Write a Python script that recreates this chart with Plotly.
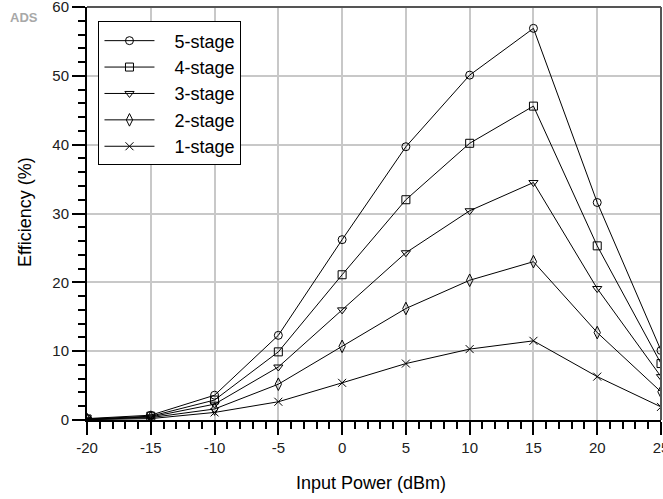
import plotly.graph_objects as go

x_power = [-20, -15, -10, -5, 0, 5, 10, 15, 20, 25]
stage5 = [0.2, 0.7, 3.6, 12.3, 26.2, 39.7, 50.1, 56.9, 31.6, 10.1]
stage4 = [0.15, 0.55, 2.9, 9.9, 21.1, 32.0, 40.2, 45.6, 25.3, 8.2]
stage3 = [0.1, 0.45, 2.3, 7.7, 16.0, 24.3, 30.4, 34.5, 19.1, 6.3]
stage2 = [0.08, 0.35, 1.6, 5.2, 10.7, 16.2, 20.3, 23.0, 12.7, 4.1]
stage1 = [0.05, 0.2, 1.1, 2.65, 5.4, 8.2, 10.3, 11.5, 6.3, 1.9]

x_tick_vals = [-20, -15, -10, -5, 0, 5, 10, 15, 20, 25]
x_tick_text = ["-20", "-15", "-10", "-5", "0", "5", "10", "15", "20", "25"]
y_tick_vals = [0, 10, 20, 30, 40, 50, 60]
y_tick_text = ["0", "10", "20", "30", "40", "50", "60"]

names = ["5-stage", "4-stage", "3-stage", "2-stage", "1-stage"]
series = [stage5, stage4, stage3, stage2, stage1]
symbols = ["circle-open", "square-open", "triangle-down-open", "diamond-tall-open", "x-thin-open"]
sizes = [8, 8, 8, 9, 8]

pad = "\u00a0\u00a0\u00a0"

fig = go.Figure()
for nm, ys, sym, sz in zip(names, series, symbols, sizes):
    fig.add_trace(go.Scatter(
        x=x_power, y=ys, name=pad + nm, mode="lines+markers",
        line=dict(color="black", width=1),
        marker=dict(symbol=sym, size=sz, color="black",
                    line=dict(color="black", width=1)),
    ))

font_family = "Liberation Sans, Arial, sans-serif"

fig.update_layout(
    width=663, height=499,
    margin=dict(l=87, r=2, t=7, b=79),
    paper_bgcolor="white", plot_bgcolor="white",
    font=dict(family=font_family, color="black"),
    showlegend=True,
    legend=dict(
        x=0.02, y=0.965, xanchor="left", yanchor="top",
        bgcolor="white", bordercolor="black", borderwidth=1,
        font=dict(size=18, family=font_family, color="black"),
        itemwidth=50, tracegroupgap=0,
    ),
    xaxis=dict(
        range=[-20, 25], tickmode="array", tickvals=x_tick_vals, ticktext=x_tick_text,
        automargin=False,
        showgrid=True, gridcolor="#c8c8c8", gridwidth=2,
        showline=True, linecolor="black", linewidth=2,
        ticks="outside", ticklen=13, tickwidth=2, tickcolor="black",
        tickfont=dict(size=15, color="#202020"),
        ticklabeloverflow="allow",
        zeroline=False,
        minor=dict(dtick=1, tick0=0, ticks="outside", ticklen=7, tickwidth=1.5,
                   tickcolor="black", showgrid=False),
    ),
    yaxis=dict(
        range=[0, 60], tickmode="array", tickvals=y_tick_vals, ticktext=y_tick_text,
        automargin=False,
        showgrid=True, gridcolor="#c8c8c8", gridwidth=2,
        showline=True, linecolor="black", linewidth=2,
        ticks="outside", ticklen=13, tickwidth=2, tickcolor="black",
        tickfont=dict(size=15, color="#202020"),
        ticklabeloverflow="allow",
        zeroline=False,
        minor=dict(dtick=2, tick0=0, ticks="outside", ticklen=7, tickwidth=1.5,
                   tickcolor="black", showgrid=False),
    ),
    shapes=[
        dict(type="line", xref="paper", yref="paper", x0=0, x1=1, y0=1, y1=1,
             line=dict(color="#555555", width=2)),
        dict(type="line", xref="paper", yref="paper", x0=1, x1=1, y0=0, y1=1,
             line=dict(color="#555555", width=2)),
    ],
    annotations=[
        dict(text="Input Power (dBm)", xref="paper", yref="paper",
             x=(371 - 87) / 574, y=-(483 - 420) / 413, xanchor="center", yanchor="middle",
             showarrow=False, font=dict(size=18, family=font_family, color="black")),
        dict(text="Efficiency (%)", xref="paper", yref="paper",
             x=-(87 - 25) / 574, y=(420 - 212) / 413, xanchor="center", yanchor="middle",
             textangle=-90,
             showarrow=False, font=dict(size=18, family=font_family, color="black")),
        dict(text="<b>ADS</b>", xref="paper", yref="paper",
             x=-(87 - 24) / 574, y=(420 - 18) / 413, xanchor="center", yanchor="middle",
             showarrow=False, font=dict(size=13, family=font_family, color="#a8a8a8")),
    ],
)

fig.write_html("out.html")
